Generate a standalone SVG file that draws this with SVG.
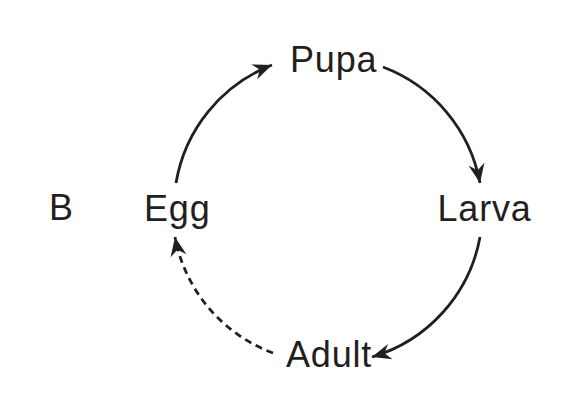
<svg xmlns="http://www.w3.org/2000/svg" width="569" height="408" viewBox="0 0 569 408">
<style>
.lbl{font-family:"Liberation Sans",Arial,Helvetica,sans-serif;font-size:36px;letter-spacing:0.8px;fill:#231f20}
.arc{fill:none;stroke:#231f20;stroke-width:2.8}
.dash{stroke-dasharray:7 5}
</style>
<defs>
<marker id="ah" markerUnits="userSpaceOnUse" viewBox="-20 -9 21 18" refX="0" refY="0" markerWidth="21" markerHeight="18" orient="auto">
<path d="M0,0 L-19,-8 L-13,0 L-19,8 Z" fill="#231f20"/>
</marker>
</defs>
<rect width="569" height="408" fill="#fff"/>
<g id="connectors">
<path class="arc" d="M176,183 A154,154 0 0 1 272,65" marker-end="url(#ah)"/>
<path class="arc" d="M383,67 A154,154 0 0 1 480,183" marker-end="url(#ah)"/>
<path class="arc" d="M480,237 A154,154 0 0 1 372,357" marker-end="url(#ah)"/>
<path class="arc dash" d="M273,353 A154,154 0 0 1 175,237" marker-end="url(#ah)"/>
</g>
<g id="label-b"><text class="lbl" x="49" y="220">B</text></g>
<g id="node-pupa"><text class="lbl" x="290" y="72">Pupa</text></g>
<g id="node-larva"><text class="lbl" x="437.5" y="221">Larva</text></g>
<g id="node-adult"><text class="lbl" x="286" y="367">Adult</text></g>
<g id="node-egg"><text class="lbl" x="144" y="221">Egg</text></g>
</svg>
